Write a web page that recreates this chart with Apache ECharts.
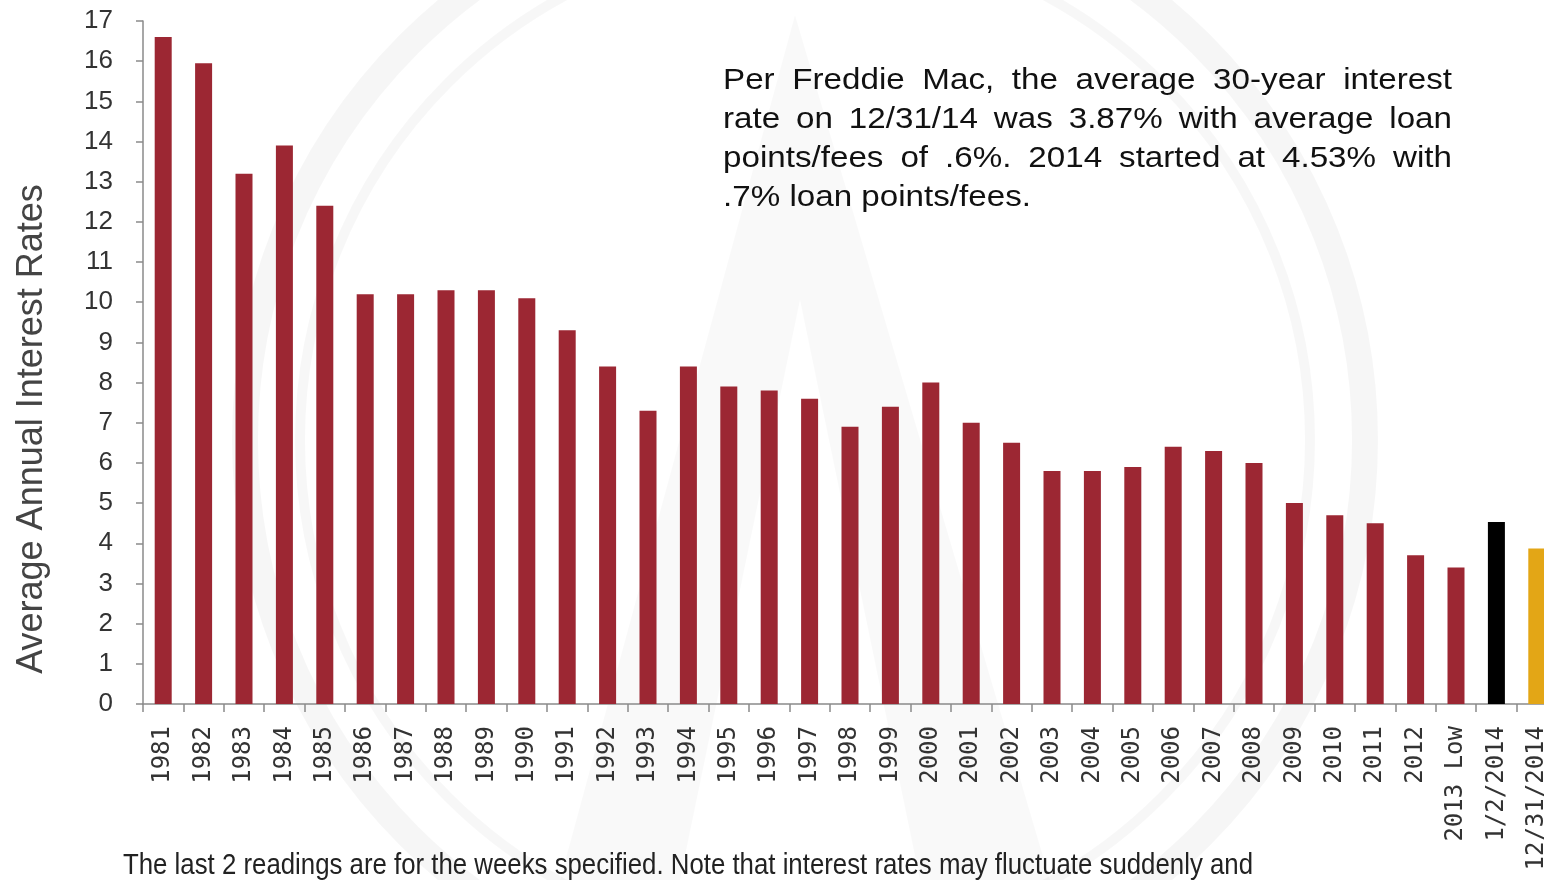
<!DOCTYPE html>
<html>
<head>
<meta charset="utf-8">
<script src="https://cdn.jsdelivr.net/npm/echarts@6/dist/echarts.min.js"></script>
<style>
  html, body { margin: 0; padding: 0; background: #fff; }
  #chart { width: 1544px; height: 880px; }
</style>
</head>
<body>
<div id="chart"></div>
<script>
const categories = ['1981','1982','1983','1984','1985','1986','1987','1988','1989','1990',
  '1991','1992','1993','1994','1995','1996','1997','1998','1999','2000',
  '2001','2002','2003','2004','2005','2006','2007','2008','2009','2010',
  '2011','2012','2013 Low','1/2/2014','12/31/2014'];
const rates = [16.6, 15.95, 13.2, 13.9, 12.4, 10.2, 10.2, 10.3, 10.3, 10.1,
  9.3, 8.4, 7.3, 8.4, 7.9, 7.8, 7.6, 6.9, 7.4, 8.0,
  7.0, 6.5, 5.8, 5.8, 5.9, 6.4, 6.3, 6.0, 5.0, 4.7,
  4.5, 3.7, 3.4, 4.53, 3.87];
const barColors = categories.map((c, i) => i === 33 ? '#000000' : (i === 34 ? '#e3a616' : '#9c2733'));
const yTicks = { min: 0, max: 17, interval: 1 };
const axisTitle = 'Average Annual Interest Rates';
const noteLines = [
  'Per Freddie Mac, the average 30-year interest',
  'rate on 12/31/14 was 3.87% with average loan',
  'points/fees of .6%. 2014 started at 4.53% with',
  '.7% loan points/fees.'
];
const footnote = 'The last 2 readings are for the weeks specified. Note that interest rates may fluctuate suddenly and';

const chart = echarts.init(document.getElementById('chart'));

// text measurement for justified annotation
const ctx = document.createElement('canvas').getContext('2d');
const noteFont = '30px "Liberation Sans", Arial, sans-serif';
ctx.font = noteFont;
const noteLeft = 723, noteRight = 1452, noteTop = 81, noteLH = 39;
const lastW = ctx.measureText(noteLines[noteLines.length - 1]).width;
const noteScale = 308 / lastW;
const spaceW = ctx.measureText(' ').width * noteScale;
const graphics = [];

// faint watermark
graphics.push({ type: 'circle', z: -10, silent: true, shape: { cx: 805, cy: 440, r: 560 },
  style: { fill: 'none', stroke: 'rgba(0,0,0,0.035)', lineWidth: 26 } });
graphics.push({ type: 'circle', z: -10, silent: true, shape: { cx: 805, cy: 440, r: 505 },
  style: { fill: 'none', stroke: 'rgba(0,0,0,0.03)', lineWidth: 10 } });
graphics.push({ type: 'polygon', z: -10, silent: true,
  shape: { points: [[795, 15], [560, 880], [680, 880], [800, 300], [920, 880], [1050, 880]] },
  style: { fill: 'rgba(0,0,0,0.022)' } });

noteLines.forEach((line, i) => {
  const words = line.split(' ');
  const widths = words.map(w => ctx.measureText(w).width * noteScale);
  const sum = widths.reduce((a, b) => a + b, 0);
  const last = i === noteLines.length - 1;
  const gap = last ? spaceW : (noteRight - noteLeft - sum) / (words.length - 1);
  let x = noteLeft;
  words.forEach((w, j) => {
    graphics.push({
      type: 'text', x: x, y: noteTop + i * noteLH, scaleX: noteScale, silent: true,
      style: { text: w, font: noteFont, fill: '#111', textAlign: 'left', textVerticalAlign: 'middle', align: 'left', verticalAlign: 'middle' }
    });
    x += widths[j] + gap;
  });
});

// footnote scaled to span its width
const footFont = '29px "Liberation Sans", Arial, sans-serif';
ctx.font = footFont;
const footW = ctx.measureText(footnote).width;
graphics.push({
  type: 'text', x: 123, y: 866, scaleX: 1130 / footW, silent: true,
  style: { text: footnote, font: footFont, fill: '#222', textAlign: 'left', textVerticalAlign: 'middle', align: 'left', verticalAlign: 'middle' }
});

// y axis title
graphics.push({
  type: 'text', x: 32, y: 429, rotation: Math.PI / 2, silent: true,
  style: { text: axisTitle, font: '36px "Liberation Sans", Arial, sans-serif', fill: '#444', textAlign: 'center', textVerticalAlign: 'middle', align: 'center', verticalAlign: 'middle' }
});

chart.setOption({
  animation: false,
  backgroundColor: '#ffffff',
  grid: { left: 143, top: 21, width: 1414, height: 683, containLabel: false, outerBoundsMode: 'none' },
  xAxis: {
    type: 'category',
    data: categories,
    axisLine: { show: true, lineStyle: { color: '#8a8a8a', width: 1.5 } },
    axisTick: { show: true, length: 8, alignWithLabel: false, interval: 0, lineStyle: { color: '#8a8a8a', width: 1.5 } },
    axisLabel: {
      interval: 0, rotate: 90, margin: 22,
      fontFamily: '"DejaVu Sans Mono", monospace', fontSize: 24, color: '#333'
    },
    splitLine: { show: false }
  },
  yAxis: {
    type: 'value',
    min: yTicks.min, max: yTicks.max, interval: yTicks.interval,
    axisLine: { show: true, lineStyle: { color: '#8a8a8a', width: 1.5 } },
    axisTick: { show: true, length: 7, lineStyle: { color: '#8a8a8a', width: 1.5 } },
    axisLabel: { margin: 30, fontFamily: '"Liberation Sans", Arial, sans-serif', fontSize: 26, color: '#333' },
    splitLine: { show: false }
  },
  series: [{
    type: 'bar',
    barWidth: 17,
    data: rates.map((v, i) => ({ value: v, itemStyle: { color: barColors[i] } }))
  }],
  graphic: { elements: graphics }
});
</script>
</body>
</html>
